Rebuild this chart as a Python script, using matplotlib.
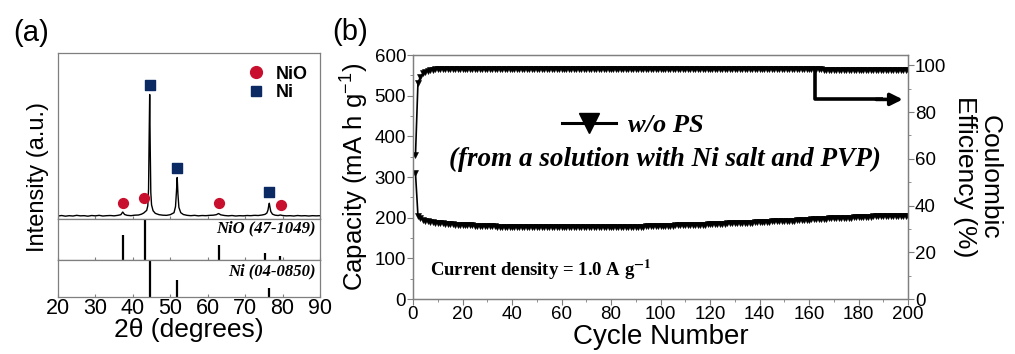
import matplotlib.pyplot as plt
from matplotlib.lines import Line2D
from matplotlib.ticker import MultipleLocator

plt.rcParams['font.family'] = ['Liberation Sans', 'DejaVu Sans']
plt.rcParams['mathtext.fontset'] = 'custom'
plt.rcParams['mathtext.rm'] = 'Liberation Sans'

# --- (a) XRD pattern ---
xrd_2theta = [20, 21, 22, 23, 24, 25, 26, 27, 28, 29, 30, 31, 32, 33, 34, 35, 36,
              36.8, 37.3, 37.8, 38.5, 39.5, 40.5, 41.5, 42.3, 42.9, 43.3, 43.7,
              44.0, 44.2, 44.35, 44.5, 44.65, 44.8, 45.0, 45.4, 46.0, 47.0, 48.0,
              49.0, 50.0, 51.0, 51.4, 51.65, 51.85, 52.05, 52.3, 52.8, 53.5, 54.5,
              55.5, 56.5, 57.5, 58.5, 59.5, 60.5, 61.5, 62.3, 62.9, 63.5, 64.5,
              65.5, 66.5, 67.5, 68.5, 69.5, 70.5, 71.5, 72.5, 73.5, 74.5, 75.3,
              75.8, 76.1, 76.3, 76.45, 76.6, 76.85, 77.3, 78.0, 78.8, 79.4, 80.0,
              81, 82, 83, 84, 85, 86, 87, 88, 89, 90]
xrd_int = [1.8, 2.1, 1.7, 2.0, 1.8, 2.2, 1.9, 2.0, 1.7, 2.1, 1.9, 2.2, 1.8, 2.0, 2.1, 1.9, 2.2,
           2.6, 4.2, 2.7, 2.2, 2.0, 2.3, 2.4, 2.9, 3.6, 4.4, 5.2,
           8.0, 18.0, 48.0, 75.0, 42.0, 16.0, 8.5, 5.0, 3.4, 2.6, 2.3,
           2.2, 2.6, 3.8, 7.5, 16.5, 25.0, 15.0, 7.0, 3.8, 2.7, 2.2,
           2.0, 2.2, 1.9, 2.1, 2.0, 2.2, 2.3, 2.6, 3.3, 2.5, 2.1,
           1.9, 2.1, 1.8, 2.0, 1.9, 2.1, 2.0, 2.2, 2.1, 2.4, 2.8,
           3.6, 5.4, 8.0, 9.5, 7.5, 4.5, 2.9, 2.3, 2.1, 2.4, 2.1,
           1.9, 2.0, 1.8, 2.1, 1.9, 2.0, 1.8, 2.0, 1.9, 2.0]

nio_mark_x = [37.3, 43.0, 63.0, 79.6]
nio_mark_y = [9.6, 12.7, 9.6, 8.4]
ni_mark_x = [44.5, 51.8, 76.5]
ni_mark_y = [81, 31, 16]

nio_ref_x = [37.3, 43.3, 62.9, 75.4, 79.4]
nio_ref_h = [0.62, 1.0, 0.37, 0.17, 0.10]
ni_ref_x = [44.5, 51.8, 76.4]
ni_ref_h = [1.0, 0.46, 0.24]

# --- (b) cycling data ---
cycles = list(range(1, 201))
capacity = [310, 205, 198, 195, 193, 191, 190, 189, 188, 187,
            186, 186, 185, 185, 184, 184, 183, 183, 182, 182,
            182, 181, 181, 181, 180, 180, 180, 180, 179, 179,
            179, 179, 179, 178, 178, 178, 178, 178, 178, 178,
            178, 178, 177, 177, 177, 177, 177, 177, 177, 177,
            177, 177, 177, 177, 177, 177, 177, 177, 177, 177,
            177, 177, 177, 177, 177, 177, 177, 177, 177, 177,
            177, 177, 177, 177, 177, 177, 177, 178, 178, 178,
            178, 178, 178, 178, 178, 178, 178, 178, 178, 178,
            178, 178, 178, 179, 179, 179, 179, 179, 179, 179,
            180, 180, 180, 180, 180, 181, 181, 181, 181, 181,
            182, 182, 182, 182, 183, 183, 183, 183, 184, 184,
            184, 184, 185, 185, 185, 185, 186, 186, 186, 186,
            187, 187, 187, 188, 188, 188, 188, 189, 189, 189,
            190, 190, 190, 190, 191, 191, 191, 192, 192, 192,
            193, 193, 193, 193, 194, 194, 194, 195, 195, 195,
            196, 196, 196, 196, 197, 197, 197, 198, 198, 198,
            199, 199, 199, 199, 200, 200, 200, 201, 201, 201,
            201, 202, 202, 202, 202, 203, 203, 203, 203, 203,
            204, 204, 204, 204, 204, 204, 205, 205, 205, 205]
efficiency = [61.5, 92.5, 95.0, 96.5, 97.2, 97.6, 97.9, 98.1, 98.2, 98.3] + \
             [98.4] * 20 + [98.5] * 60 + [98.4] * 75 + [98.0] * 35

gray = '#7f7f7f'
fig = plt.figure(figsize=(10.15, 3.54), dpi=100)

# ----- panel (a): three stacked boxes, 53-219, 219-260, 260-297 px -----
ax_x = fig.add_axes([0.0571, 1 - 219 / 354, 0.2582, 166 / 354])
ax_n = fig.add_axes([0.0571, 1 - 260 / 354, 0.2582, 41 / 354])
ax_r = fig.add_axes([0.0571, 1 - 297 / 354, 0.2582, 37 / 354])

ax_x.plot(xrd_2theta, xrd_int, color='black', lw=1.0)
ax_x.scatter(nio_mark_x, nio_mark_y, s=50, marker='o', color='#c8102e', zorder=3)
ax_x.scatter(ni_mark_x, ni_mark_y, s=42, marker='s', color='#0b2a63', zorder=3)
ax_x.set_ylim(0, 100)
ax_x.legend(handles=[Line2D([], [], ls='none', marker='o', ms=8.5, color='#c8102e'),
                     Line2D([], [], ls='none', marker='s', ms=7.5, color='#0b2a63')],
            labels=['NiO', 'Ni'], loc='upper right', frameon=False,
            handletextpad=0.05, borderaxespad=0.3, labelspacing=0.1,
            prop={'weight': 'bold', 'size': 13})

ax_n.vlines(nio_ref_x, 0, nio_ref_h, color='black', lw=1.6)
ax_n.set_ylim(0, 1)
ax_n.text(0.985, 0.76, 'NiO (47-1049)', transform=ax_n.transAxes, ha='right', va='center',
          family='Liberation Serif', style='italic', weight='bold', size=12)
ax_r.vlines(ni_ref_x, 0, ni_ref_h, color='black', lw=1.6)
ax_r.set_ylim(0, 1)
ax_r.text(0.985, 0.7, 'Ni (04-0850)', transform=ax_r.transAxes, ha='right', va='center',
          family='Liberation Serif', style='italic', weight='bold', size=12)

for a in (ax_x, ax_n, ax_r):
    a.set_xlim(20, 90)
    a.set_yticks([])
    a.xaxis.set_major_locator(MultipleLocator(10))
    a.tick_params(axis='x', direction='in', length=2, color=gray)
    for s in a.spines.values():
        s.set_color(gray)
        s.set_linewidth(0.9)
for a in (ax_x, ax_n):
    a.tick_params(labelbottom=False)
ax_r.tick_params(axis='x', labelsize=15.5, pad=1)
ax_r.set_xlabel('2θ (degrees)', fontsize=19, labelpad=-1)
fig.text(38 / 1015, 1 - 177 / 354, 'Intensity (a.u.)', rotation=90, ha='center', va='center',
         fontsize=17)
fig.text(31 / 1015, 1 - 33 / 354, '(a)', ha='center', va='center', fontsize=21)

# ----- panel (b) -----
ax = fig.add_axes([413 / 1015, 1 - 299 / 354, 495 / 1015, 244 / 354])
ax2 = ax.twinx()
ax.plot(cycles, capacity, color='black', lw=1.2, marker='v', ms=4, mfc='black', mec='black',
        mew=0.4)
ax2.plot(cycles, efficiency, color='black', lw=1.2, marker='v', ms=4, mfc='black', mec='black',
         mew=0.4)
ax.set_xlim(0, 200)
ax.set_ylim(0, 600)
ax2.set_ylim(0, 104.4)
ax.xaxis.set_major_locator(MultipleLocator(20))
ax.xaxis.set_minor_locator(MultipleLocator(10))
ax.yaxis.set_major_locator(MultipleLocator(100))
ax.yaxis.set_minor_locator(MultipleLocator(50))
ax2.yaxis.set_major_locator(MultipleLocator(20))
ax2.yaxis.set_minor_locator(MultipleLocator(10))
ax.tick_params(axis='both', which='major', labelsize=13.5, length=4, color=gray, pad=1)
ax.tick_params(axis='both', which='minor', length=2, color=gray)
ax2.tick_params(axis='y', which='major', labelsize=13.5, length=4, color=gray, pad=1)
ax2.tick_params(axis='y', which='minor', length=2, color=gray)
for a in (ax, ax2):
    for s in a.spines.values():
        s.set_color(gray)
        s.set_linewidth(0.9)
ax.set_xlabel('Cycle Number', fontsize=20, labelpad=1)
ax.set_ylabel('Capacity (mA h g$^{-1}$)', fontsize=18.5, labelpad=3)
ax2.set_ylabel('Coulombic\nEfficiency (%)', fontsize=19, rotation=270, labelpad=40,
               linespacing=1.05)

# arrow pointing to the right axis
ax2.plot([162.5, 162.5, 190], [98.3, 85.4, 85.4], color='black', lw=2.6, solid_capstyle='butt')
ax2.annotate('', xy=(199, 85.4), xytext=(186, 85.4),
             arrowprops=dict(arrowstyle='-|>', color='black', lw=2.6, mutation_scale=18))

ax.legend(handles=[Line2D([], [], color='black', lw=2.2, marker='v', ms=14)], labels=['w/o PS'],
          loc='center left', bbox_to_anchor=(0.28, 0.713), frameon=False, handlelength=2.05,
          handletextpad=0.45, borderaxespad=0,
          prop={'family': 'Liberation Serif', 'style': 'italic', 'weight': 'bold', 'size': 19})
ax.text(0.508, 0.57, '(from a solution with Ni salt and PVP)', transform=ax.transAxes,
        ha='center', va='center', family='Liberation Serif', style='italic', weight='bold',
        size=19.5)
ax.text(0.035, 0.12, 'Current density = 1.0 A g$^{\\mathbf{-1}}$', transform=ax.transAxes,
        ha='left', va='center', family='Liberation Serif', weight='bold', size=13.5,
        math_fontfamily='stix')
fig.text(350 / 1015, 1 - 32 / 354, '(b)', ha='center', va='center', fontsize=21)

plt.savefig('out.png', dpi=100)
